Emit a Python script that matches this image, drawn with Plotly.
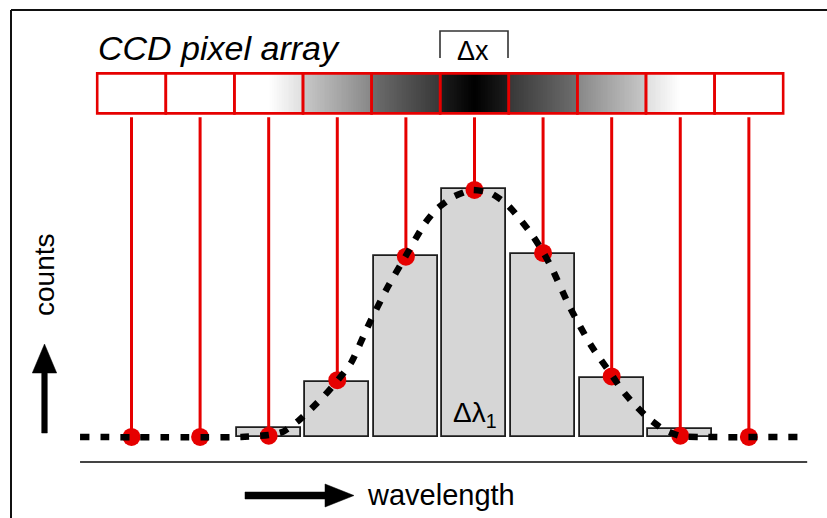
import numpy as np
import plotly.graph_objects as go

# ---- data -------------------------------------------------------------
# CCD pixel index (cell centres) and the signal read out per pixel
pixels = [1, 2, 3, 4, 5, 6, 7, 8, 9, 10]
sampled_counts = [0, 0, 0.5, 23, 73, 100, 74.5, 24.5, 0.5, 0]
# integrated counts per pixel bin (no bar where nothing was collected)
bin_counts = [None, None, 3.6, 22.3, 73.3, 100.4, 74.1, 23.9, 3.2, None]

# underlying line profile (dotted curve)
profile_x = [0.25, 2.6, 3.0, 3.2, 3.43, 3.63, 3.82, 4.01, 4.2, 4.45, 4.72,
             4.99, 5.28, 5.45, 5.69, 5.96, 6.23, 6.47, 6.66, 6.85, 7.0,
             7.14, 7.4, 7.7, 8.02, 8.15, 8.31, 8.53, 8.75, 9.0, 9.3, 10.76]
profile_y = [0, 0, 0.8, 2.0, 6.5, 11.7, 17.0, 23.1, 30.0, 45, 59.9,
             72.9, 86.6, 92.3, 97.2, 100, 98.8, 94.3, 88.3, 81.4, 74.9,
             67.6, 52, 37, 24.3, 19.0, 13.8, 7.7, 3.2, 0.4, 0, 0]

# grey level of the illuminated CCD strip per cell: (left edge, middle, right edge)
cell_grey = [(255, 255, 255), (255, 255, 255), (255, 255, 222),
             (200, 168, 135), (110, 82, 55), (30, 0, 30),
             (55, 82, 110), (135, 168, 200), (222, 255, 255),
             (255, 255, 255)]

# ---- geometry ---------------------------------------------------------
W, H = 827, 518
X_RANGE = [-0.917, 11.139]
Y_RANGE = [-32.8, 176.9]
STRIP_BOTTOM, STRIP_TOP = 131.0, 147.2
STEM_TOP = 129.4
RED = "#e60000"


def px(x_pixel):
    return x_pixel / W


def py(y_pixel):
    return 1 - y_pixel / H


fig = go.Figure()

# gradient strip of the CCD (one heatmap row spanning the strip)
cols_per_cell = 40
edges = []
grey = []
for i, (gl, gm, gr) in enumerate(cell_grey):
    left = pixels[i] - 0.5
    e = np.linspace(left, left + 1, cols_per_cell + 1)
    edges.extend(e[:-1] if i < len(cell_grey) - 1 else e)
    centres = np.linspace(0, 1, cols_per_cell, endpoint=False) + 0.5 / cols_per_cell
    grey.extend(np.interp(centres, [0, 0.5, 1], [gl, gm, gr]))

fig.add_trace(go.Heatmap(
    x=edges, y=[STRIP_BOTTOM, STRIP_TOP], z=[grey],
    zmin=0, zmax=255, colorscale=[[0, "black"], [1, "white"]],
    showscale=False, hoverinfo="skip"))

# integrated bins
fig.add_trace(go.Bar(
    x=pixels, y=bin_counts, width=0.933,
    marker=dict(color="#d6d6d6", line=dict(color="#1e1e1e", width=1.8)),
    hoverinfo="skip"))

# red read-out stems from each pixel down to its sampled value
stem_x, stem_y = [], []
for xv, yv in zip(pixels, sampled_counts):
    stem_x += [xv, xv, None]
    stem_y += [STEM_TOP, yv, None]
fig.add_trace(go.Scatter(x=stem_x, y=stem_y, mode="lines",
                         line=dict(color=RED, width=3), hoverinfo="skip"))

fig.add_trace(go.Scatter(x=pixels, y=sampled_counts, mode="markers",
                         marker=dict(color=RED, size=18, line=dict(width=0)),
                         hoverinfo="skip"))

# dotted line profile
fig.add_trace(go.Scatter(x=profile_x, y=profile_y, mode="lines",
                         line=dict(color="black", width=6.5, dash="9px,11px",
                                   shape="spline", smoothing=0.6),
                         hoverinfo="skip"))

shapes = []
# red outlines of the pixel cells
for p in pixels:
    shapes.append(dict(type="rect", xref="x", yref="y",
                       x0=p - 0.5, x1=p + 0.5, y0=STRIP_BOTTOM, y1=STRIP_TOP,
                       line=dict(color=RED, width=2.6)))

# frame (top and left edges)
shapes.append(dict(type="line", xref="paper", yref="paper",
                   x0=px(11), x1=1.01, y0=py(10), y1=py(10),
                   line=dict(color="#111111", width=2)))
shapes.append(dict(type="line", xref="paper", yref="paper",
                   x0=px(11), x1=px(11), y0=py(10), y1=-0.01,
                   line=dict(color="#111111", width=2)))

# wavelength baseline
shapes.append(dict(type="line", xref="x", yref="y",
                   x0=0.25, x1=10.85, y0=-10.1, y1=-10.1,
                   line=dict(color="#444444", width=2)))

# bracket marking the pixel width
shapes.append(dict(type="path", xref="paper", yref="paper",
                   path=f"M {px(440)} {py(58)} L {px(440)} {py(31)} "
                        f"L {px(508)} {py(31)} L {px(508)} {py(58)}",
                   line=dict(color="#333333", width=1.6)))


def polygon(points):
    d = "M " + " L ".join(f"{px(a)} {py(b)}" for a, b in points) + " Z"
    return dict(type="path", xref="paper", yref="paper", path=d,
                fillcolor="black", line=dict(color="black", width=0.5))


# counts arrow (up)
shapes.append(polygon([(41.7, 433), (47.3, 433), (47.3, 373), (56.7, 373),
                       (44.5, 344), (32.3, 373), (41.7, 373)]))
# wavelength arrow (right)
shapes.append(polygon([(245, 492), (325, 492), (325, 484), (354, 495.5),
                       (325, 507), (325, 499), (245, 499)]))

FONT = "Liberation Sans, Arial, sans-serif"
annotations = [
    dict(text="<i>CCD pixel array</i>", x=px(96), y=py(48), xref="paper",
         yref="paper", xanchor="left", yanchor="middle", showarrow=False,
         font=dict(family=FONT, size=34, color="black")),
    dict(text="Δx", x=px(473), y=py(51), xref="paper", yref="paper",
         xanchor="center", yanchor="middle", showarrow=False,
         font=dict(family=FONT, size=27, color="black")),
    dict(text="Δλ<sub>1</sub>", x=px(475), y=py(414), xref="paper",
         yref="paper", xanchor="center", yanchor="middle", showarrow=False,
         font=dict(family=FONT, size=28, color="black")),
    dict(text="counts", x=px(44), y=py(275), xref="paper", yref="paper",
         xanchor="center", yanchor="middle", textangle=-90, showarrow=False,
         font=dict(family=FONT, size=28, color="black")),
    dict(text="wavelength", x=px(441), y=py(495), xref="paper",
         yref="paper", xanchor="center", yanchor="middle", showarrow=False,
         font=dict(family=FONT, size=29, color="black")),
]

fig.update_layout(
    width=W, height=H, margin=dict(l=0, r=0, t=0, b=0),
    paper_bgcolor="white", plot_bgcolor="white", showlegend=False,
    xaxis=dict(range=X_RANGE, visible=False, fixedrange=True),
    yaxis=dict(range=Y_RANGE, visible=False, fixedrange=True),
    shapes=shapes, annotations=annotations, bargap=0,
)

fig.write_html("out.html")
